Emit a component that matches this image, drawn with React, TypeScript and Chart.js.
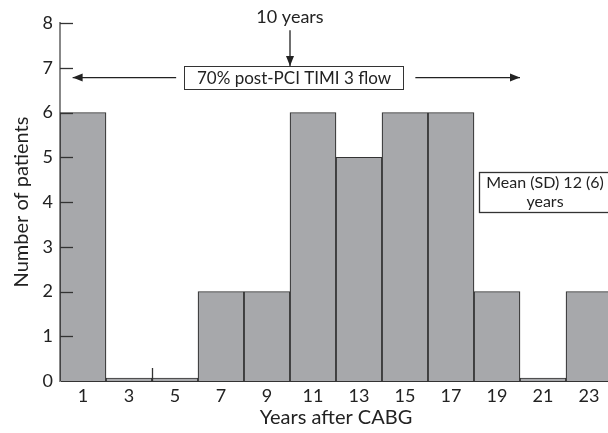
import React, { useEffect, useRef } from "react";
import { Chart, registerables } from "chart.js";

Chart.register(...registerables);

const years = ["1", "3", "5", "7", "9", "11", "13", "15", "17", "19", "21", "23"];
const patients = [6, 0, 0, 2, 2, 6, 5, 6, 6, 2, 0, 2];
const yTickValues = [1, 2, 3, 4, 5, 6, 7, 8];

const FONT = "Lato, 'Open Sans', sans-serif";
const INK = "#222";

const annotationPlugin = {
  id: "annotations",
  afterDraw(chart: any) {
    const { ctx, scales } = chart;
    const xs = scales.x;
    const ys = scales.y;
    const X = (year: number) => xs.getPixelForValue((year - 1) / 2);
    const Y = (v: number) => ys.getPixelForValue(v);
    const area = chart.chartArea;
    ctx.save();

    ctx.strokeStyle = "#333";
    ctx.lineWidth = 1.3;
    yTickValues.forEach((v) => {
      const y = Math.round(Y(v)) + 0.5;
      ctx.beginPath();
      ctx.moveTo(area.left, y);
      ctx.lineTo(area.left + 13, y);
      ctx.stroke();
    });

    ctx.beginPath();
    ctx.moveTo(Math.round(X(4)) + 0.5, Y(0));
    ctx.lineTo(Math.round(X(4)) + 0.5, Y(0) - 13);
    ctx.stroke();

    const arrow = (x1: number, y1: number, x2: number, y2: number) => {
      ctx.strokeStyle = INK;
      ctx.fillStyle = INK;
      ctx.lineWidth = 1.3;
      ctx.beginPath();
      ctx.moveTo(x1, y1);
      ctx.lineTo(x2, y2);
      ctx.stroke();
      const ang = Math.atan2(y2 - y1, x2 - x1);
      const L = 10, W = 4;
      ctx.beginPath();
      ctx.moveTo(x2, y2);
      ctx.lineTo(x2 - L * Math.cos(ang) + W * Math.sin(ang), y2 - L * Math.sin(ang) - W * Math.cos(ang));
      ctx.lineTo(x2 - L * Math.cos(ang) - W * Math.sin(ang), y2 - L * Math.sin(ang) + W * Math.cos(ang));
      ctx.closePath();
      ctx.fill();
    };

    ctx.fillStyle = INK;
    ctx.textAlign = "center";
    ctx.textBaseline = "middle";
    ctx.font = `18px ${FONT}`;
    ctx.fillText("10 years", X(10), Y(8.12));
    arrow(X(10), Y(7.84), X(10), Y(7.04));

    const bx1 = Math.round(X(5.4)) + 0.5, bx2 = Math.round(X(14.9)) + 0.5;
    const by1 = Math.round(Y(7.03)) + 0.5, by2 = Math.round(Y(6.52)) + 0.5;
    ctx.fillStyle = "#fff";
    ctx.fillRect(bx1, by1, bx2 - bx1, by2 - by1);
    ctx.strokeStyle = "#333";
    ctx.lineWidth = 1;
    ctx.strokeRect(bx1, by1, bx2 - bx1, by2 - by1);
    ctx.fillStyle = INK;
    ctx.font = `17px ${FONT}`;
    ctx.fillText("70% post-PCI TIMI 3 flow", (bx1 + bx2) / 2, (by1 + by2) / 2 + 1);

    arrow(X(5.05), Y(6.78), X(0.55), Y(6.78));
    arrow(X(15.45), Y(6.78), X(20.0), Y(6.78));

    const mx1 = Math.round(X(18.2)) + 0.5, mx2 = Math.round(X(23.9)) + 0.5;
    const my1 = Math.round(Y(4.67)) + 0.5, my2 = Math.round(Y(3.78)) + 0.5;
    ctx.fillStyle = "#fff";
    ctx.fillRect(mx1, my1, mx2 - mx1, my2 - my1);
    ctx.strokeStyle = "#333";
    ctx.strokeRect(mx1, my1, mx2 - mx1, my2 - my1);
    ctx.fillStyle = INK;
    ctx.font = `16px ${FONT}`;
    ctx.fillText("Mean (SD) 12 (6)", (mx1 + mx2) / 2, Y(4.43));
    ctx.fillText("years", (mx1 + mx2) / 2, Y(4.0));

    ctx.restore();
  },
};

export default function App() {
  const ref = useRef<HTMLCanvasElement>(null);
  useEffect(() => {
    if (!ref.current) return;
    const chart = new Chart(ref.current, {
      type: "bar",
      data: {
        labels: years,
        datasets: [
          {
            data: patients,
            backgroundColor: "#a7a8ab",
            borderColor: "#333",
            borderWidth: 1.2,
            minBarLength: 3,
            categoryPercentage: 1,
            barPercentage: 1,
          },
        ],
      },
      options: {
        responsive: false,
        animation: false,
        layout: { padding: { top: 23, right: 0, left: 0, bottom: 0 } },
        plugins: { legend: { display: false }, tooltip: { enabled: false } },
        scales: {
          x: {
            type: "category",
            offset: true,
            grid: { display: false, drawTicks: false },
            border: { display: true, color: "#333", width: 2 },
            ticks: { color: INK, font: { size: 18, family: FONT }, padding: 4 },
            title: {
              display: true,
              text: "Years after CABG",
              color: INK,
              font: { size: 20, family: FONT },
              padding: { top: 0, bottom: 3 },
            },
            afterFit: (s: any) => {
              s.height = 52;
            },
          },
          y: {
            min: 0,
            max: 8,
            grid: { display: false, drawTicks: false },
            border: { display: true, color: "#888", width: 2 },
            ticks: { stepSize: 1, color: INK, font: { size: 18, family: FONT }, padding: 7 },
            title: {
              display: true,
              text: "Number of patients",
              color: INK,
              font: { size: 20, family: FONT },
              padding: { top: 10, bottom: 0 },
            },
            afterFit: (s: any) => {
              s.width = 60;
            },
          },
        },
      },
      plugins: [annotationPlugin],
    });
    return () => chart.destroy();
  }, []);
  return (
    <div style={{ position: "absolute", left: 0, top: 0, width: 608, height: 433, overflow: "hidden", background: "#fff" }}>
      <canvas ref={ref} width={612} height={433} style={{ display: "block" }} />
    </div>
  );
}
